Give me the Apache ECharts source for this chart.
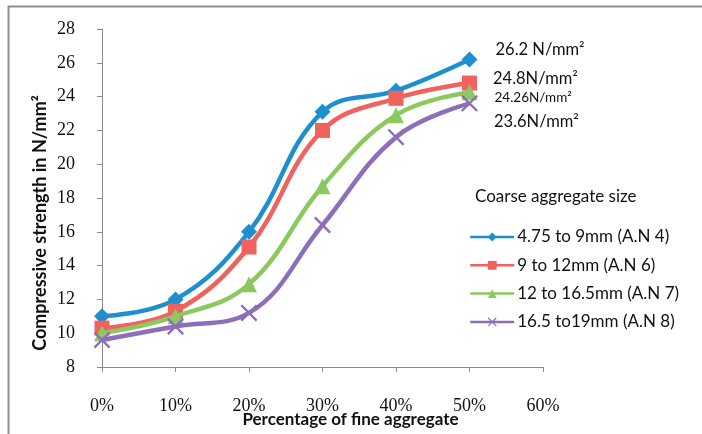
<!DOCTYPE html>
<html>
<head>
<meta charset="utf-8">
<script src="https://cdn.jsdelivr.net/npm/echarts@6/dist/echarts.min.js"></script>
<style>
  html, body { margin: 0; padding: 0; background: #fff; }
  #chart { width: 702px; height: 434px; }
</style>
</head>
<body>
<div id="chart"></div>
<script>
// Percentage of fine aggregate (x) and compressive strength (N/mm²) per coarse aggregate size
const finePercent = [0, 10, 20, 30, 40, 50];
const seriesNames = [
  '4.75 to 9mm (A.N 4)',
  '9 to 12mm (A.N 6)',
  '12 to 16.5mm (A.N 7)',
  '16.5 to19mm (A.N 8)'
];
const strengthAN4 = [11.0, 12.0, 16.0, 23.1, 24.35, 26.2];
const strengthAN6 = [10.3, 11.3, 15.1, 22.0, 23.9, 24.8];
const strengthAN7 = [10.0, 11.0, 12.9, 18.7, 22.9, 24.26];
const strengthAN8 = [9.6, 10.4, 11.2, 16.4, 21.6, 23.6];
const endLabels = ['26.2 N/mm²', '24.8N/mm²', '24.26N/mm²', '23.6N/mm²'];

const colors = ['#1E8FCE', '#EF625E', '#8BC95E', '#8C6FB8'];
const crossPath = 'path://M0,1 L1,0 L10,9 L9,10 Z M9,0 L10,1 L1,10 L0,9 Z';
const symbols = ['diamond', 'rect', 'triangle', crossPath];
const symbolSizes = [16, 15, 16, 17];
const labelOffsets = [[13, -10], [11, -4], [12, 5], [11, 18]];
const labelSizes = [16.5, 16.5, 13.5, 16.5];

const uiFont = 'Lato, "Open Sans", sans-serif';
const tickFont = '"Liberation Serif", serif';

function buildSeries(name, values, i) {
  const data = values.map((v, k) => {
    const point = { value: [finePercent[k], v] };
    if (k === values.length - 1) {
      point.label = {
        show: true,
        position: 'right',
        offset: labelOffsets[i],
        fontFamily: uiFont,
        fontSize: labelSizes[i],
        color: '#111',
        formatter: () => endLabels[i]
      };
    }
    return point;
  });
  return {
    name: name,
    type: 'line',
    smooth: 0.4,
    data: data,
    symbol: symbols[i],
    symbolSize: symbolSizes[i],
    lineStyle: { width: 4.5, color: colors[i] },
    itemStyle: { color: colors[i] },
    emphasis: { disabled: true },
    z: 2 + i
  };
}

const chart = echarts.init(document.getElementById('chart'), null, { renderer: 'canvas' });
chart.setOption({
  animation: false,
  backgroundColor: '#fff',
  color: colors,
  grid: { left: 102, right: 159, top: 29, bottom: 67, containLabel: false, outerBoundsMode: 'none' },
  xAxis: {
    type: 'value',
    min: 0, max: 60, interval: 10,
    name: 'Percentage of fine aggregate',
    nameLocation: 'middle',
    nameGap: 44,
    nameMoveOverlap: false,
    nameTextStyle: { fontFamily: uiFont, fontWeight: 'bold', fontSize: 17, color: '#111', padding: [0, 0, 0, 56] },
    axisLine: { lineStyle: { color: '#8a8a8a', width: 1 } },
    axisTick: { show: true, length: 5, lineStyle: { color: '#8a8a8a' } },
    axisLabel: { formatter: '{value}%', margin: 30, fontFamily: tickFont, fontSize: 18, color: '#111' },
    splitLine: { show: false }
  },
  yAxis: {
    type: 'value',
    min: 8, max: 28, interval: 2,
    name: 'Compressive strength in N/mm²',
    nameLocation: 'middle',
    nameGap: 53,
    nameMoveOverlap: false,
    nameRotate: 90,
    nameTextStyle: { fontFamily: uiFont, fontWeight: 'bold', fontSize: 18, color: '#111', padding: [0, 50, 0, 0] },
    axisLine: { show: true, lineStyle: { color: '#8a8a8a', width: 1 } },
    axisTick: { show: true, length: 5, lineStyle: { color: '#8a8a8a' } },
    axisLabel: { margin: 27, fontFamily: tickFont, fontSize: 18, color: '#111' },
    splitLine: { show: false }
  },
  legend: {
    orient: 'vertical',
    left: 464,
    top: 223,
    itemWidth: 44,
    itemHeight: 11,
    itemGap: 10.3,
    lineStyle: { width: 2.5 },
    textStyle: { fontFamily: uiFont, fontSize: 17, lineHeight: 18, color: '#111', padding: [0, 0, 0, -2] },
    data: seriesNames
  },
  graphic: [
    {
      type: 'text',
      left: 475, top: 188,
      style: { text: 'Coarse aggregate size', font: '17px ' + uiFont, fill: '#111' }
    },
    {
      type: 'polyline',
      shape: { points: [[8.5, 434], [8.5, 6.5], [702, 6.5]] },
      style: { stroke: '#8e8e8e', lineWidth: 2, fill: null }
    }
  ],
  series: [
    buildSeries(seriesNames[0], strengthAN4, 0),
    buildSeries(seriesNames[1], strengthAN6, 1),
    buildSeries(seriesNames[2], strengthAN7, 2),
    buildSeries(seriesNames[3], strengthAN8, 3)
  ]
});
</script>
</body>
</html>
